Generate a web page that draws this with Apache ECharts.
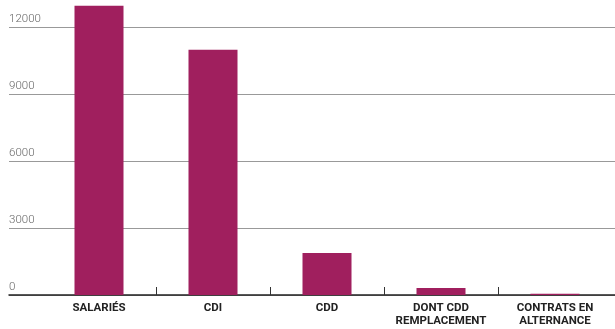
<!DOCTYPE html>
<html><head><meta charset="utf-8">
<script src="https://cdn.jsdelivr.net/npm/echarts@6/dist/echarts.min.js"></script>
<style>html,body{margin:0;padding:0;background:#fff}#c{width:615px;height:329px}</style>
</head><body><div id="c"></div>
<script>
const categories = ['SALARIÉS', 'CDI', 'CDD', 'DONT CDD\nREMPLACEMENT', 'CONTRATS EN\nALTERNANCE'];
const values = [12950, 10980, 1880, 310, 60];
const yTicks = [0, 3000, 6000, 9000, 12000];

const chart = echarts.init(document.getElementById('c'));
const yMin = yTicks[0], yMax = yTicks[yTicks.length - 1], yStep = yTicks[1] - yTicks[0];
chart.setOption({
  animation: false,
  grid: [
    {left: 9, right: 0, top: 27, bottom: 34, outerBoundsMode: 'none'},
    {left: 42, width: 114 * (categories.length + 1), top: 27, bottom: 34, outerBoundsMode: 'none'}
  ],
  xAxis: [
    {type: 'category', gridIndex: 0, data: [''], axisLine: {show: true, lineStyle: {color: '#222', width: 1.5}},
     axisTick: {show: false}, axisLabel: {show: false}},
    {type: 'category', gridIndex: 1, data: categories.concat(['']), axisLine: {show: false},
     axisTick: {show: true, inside: true, length: 8, lineStyle: {color: '#333', width: 1},
       interval: function (i) { return i > 0 && i < categories.length; }},
     axisLabel: {interval: 0, margin: 7, color: '#222', fontWeight: 'bold', fontSize: 11.5, lineHeight: 13,
       fontFamily: 'Roboto, sans-serif'}}
  ],
  yAxis: [
    {type: 'value', gridIndex: 0, min: yMin, max: yMax, interval: yStep,
     axisLine: {show: false}, axisTick: {show: false},
     splitLine: {show: true, lineStyle: {color: '#999', width: 1}},
     axisLabel: {inside: true, align: 'left', verticalAlign: 'bottom', margin: 0, padding: [0, 0, 2, 0],
       color: '#666', fontSize: 11.5, fontWeight: 300, fontFamily: 'Roboto, sans-serif',
       formatter: function (v) { return String(v); }}},
    {type: 'value', gridIndex: 1, min: yMin, max: yMax, show: false}
  ],
  series: [{
    type: 'bar', xAxisIndex: 1, yAxisIndex: 1, data: values, barWidth: 49, clip: false,
    itemStyle: {color: '#a01f5e'}
  }]
});
</script></body></html>
